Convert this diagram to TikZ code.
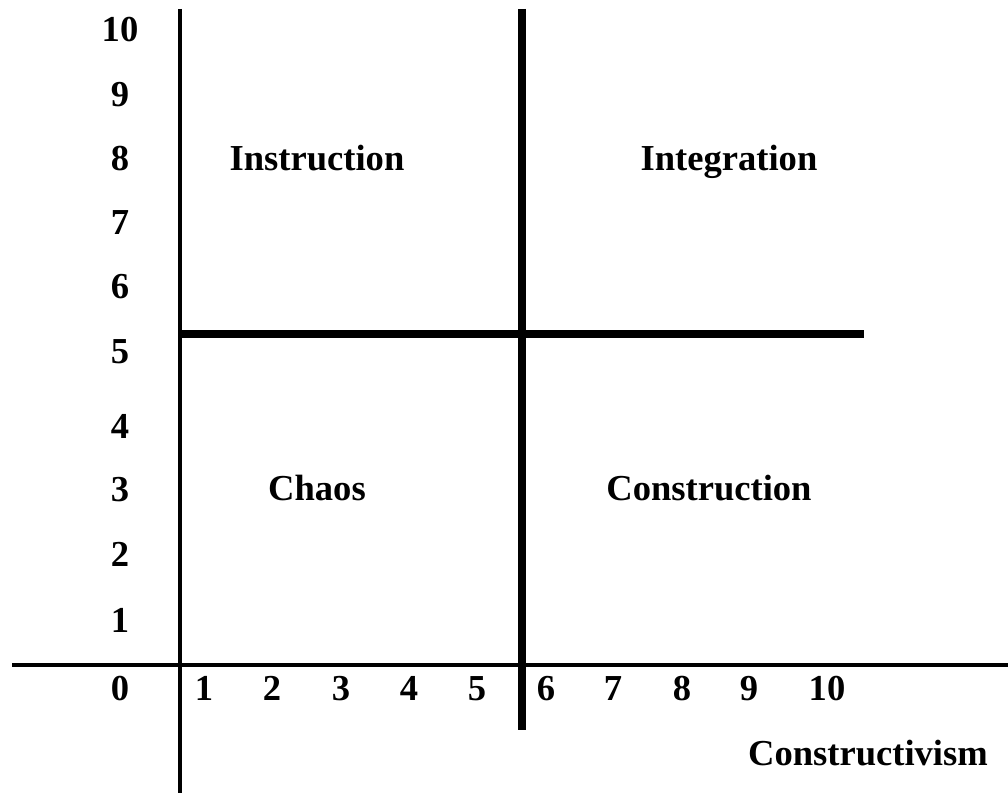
\documentclass[tikz,border=0pt]{standalone}
\usepackage{fontspec}
\setmainfont{Liberation Serif}
\usepackage{tikz}
\usetikzlibrary{positioning,calc}

\begin{document}
\begin{tikzpicture}[x=0.025cm, y=-0.025cm,
  num/.style={font=\fontsize{26}{31}\selectfont\bfseries, anchor=base, inner sep=0pt},
  quad/.style={num},
  thinline/.style={line width=2.5pt},
  thickline/.style={line width=5.7pt}]
  \useasboundingbox (0,0) rectangle (1008,793);
  % axes and dividers
  \coordinate (vT) at (180,9);   \coordinate (vB) at (180,793);
  \coordinate (hL) at (12,665);  \coordinate (hR) at (1008,665);
  \coordinate (mT) at (522,9);   \coordinate (mB) at (522,730);
  \coordinate (dL) at (180,334); \coordinate (dR) at (864,334);
  \draw[thinline] (vT) -- (vB);
  \draw[thinline] (hL) -- (hR);
  \draw[thickline] (mT) -- (mB);
  \draw[thickline] (dL) -- (dR);
  % y scale
  \foreach \n/\y in {10/42,9/107,8/171,7/235,6/299,5/364,4/439,3/502,2/567,1/632,0/700}
    \node[num] (y\n) at (120,\y) {\n};
  % x scale
  \foreach \n/\x in {1/204,2/272,3/341,4/409,5/477,6/546,7/613,8/682,9/749,10/827}
    \node[num] (x\n) at (\x,700) {\n};
  % quadrants
  \node[quad] (instr) at (317,171) {Instruction};
  \node[quad] (integ) at (729,171) {Integration};
  \node[quad] (chaos) at (317,501) {Chaos};
  \node[quad] (constr) at (709,501) {Construction};
  \node[quad] (cvism) at (868,765) {Constructivism};
\end{tikzpicture}
\end{document}
